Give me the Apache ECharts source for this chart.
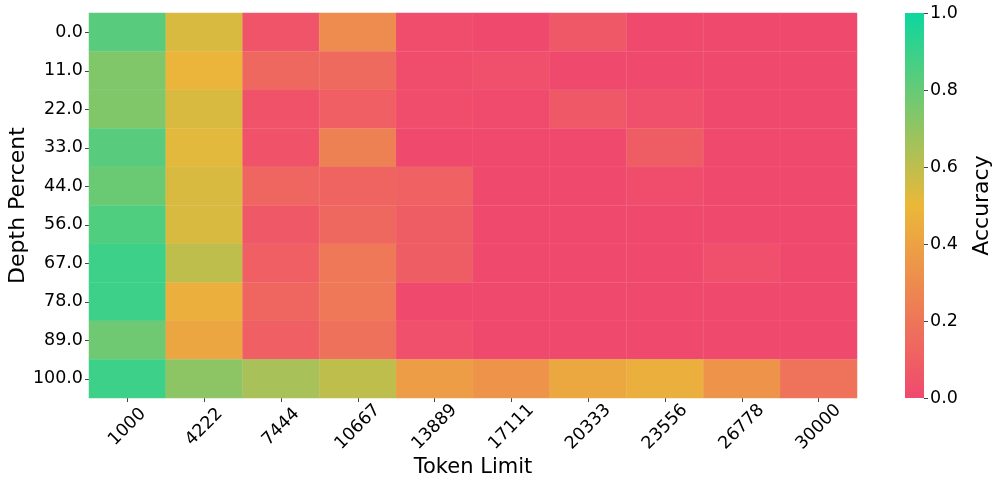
<!DOCTYPE html>
<html>
<head>
<meta charset="utf-8">
<script src="https://cdn.jsdelivr.net/npm/echarts@6/dist/echarts.min.js"></script>
<style>
html,body{margin:0;padding:0;background:#fff;}
#chart{width:997px;height:489px;}
</style>
</head>
<body>
<div id="chart"></div>
<script>
// token limits on x, depth percents on y (top to bottom)
var tokenLimits = ['1000','4222','7444','10667','13889','17111','20333','23556','26778','30000'];
var depthPercents = ['0.0','11.0','22.0','33.0','44.0','56.0','67.0','78.0','89.0','100.0'];
var accTicks = [0, 0.2, 0.4, 0.6, 0.8, 1.0];
var cmapColors = ['#F0496E', '#EBB839', '#0CD79F'];

// one row per depth, one value per token limit
var row0   = [0.83, 0.54, 0.05, 0.30, 0.02, 0.00, 0.07, 0.00, 0.00, 0.00];
var row11  = [0.74, 0.48, 0.14, 0.15, 0.02, 0.03, 0.00, 0.00, 0.00, 0.00];
var row22  = [0.74, 0.54, 0.04, 0.10, 0.02, 0.01, 0.07, 0.03, 0.00, 0.00];
var row33  = [0.83, 0.52, 0.04, 0.25, 0.00, 0.00, 0.00, 0.09, 0.00, 0.00];
var row44  = [0.79, 0.54, 0.13, 0.12, 0.11, 0.00, 0.00, 0.02, 0.00, 0.00];
var row56  = [0.85, 0.54, 0.07, 0.14, 0.09, 0.00, 0.00, 0.00, 0.00, 0.00];
var row67  = [0.89, 0.60, 0.10, 0.21, 0.09, 0.00, 0.00, 0.00, 0.03, 0.00];
var row78  = [0.89, 0.46, 0.13, 0.21, 0.00, 0.00, 0.00, 0.00, 0.00, 0.00];
var row89  = [0.78, 0.42, 0.10, 0.18, 0.03, 0.00, 0.00, 0.00, 0.00, 0.00];
var row100 = [0.89, 0.71, 0.65, 0.60, 0.38, 0.34, 0.43, 0.46, 0.34, 0.19];
var rows = [row0, row11, row22, row33, row44, row56, row67, row78, row89, row100];

var cells = [];
rows.forEach(function(r, yi){
    r.forEach(function(v, xi){ cells.push([xi, yi, v]); });
});

var font = 'DejaVu Sans';
var myChart = echarts.init(document.getElementById('chart'));
myChart.setOption({
    animation:false,
    textStyle:{fontFamily:font},
    grid:[{
        left:89, top:13, width:768, height:385, outerBoundsMode:'none', containLabel:false
    },{
        left:905, top:13, width:19, height:385, outerBoundsMode:'none', containLabel:false
    }],
    xAxis:[{
        gridIndex:0,
        type:'category',
        data:tokenLimits,
        name:'Token Limit',
        nameLocation:'middle',
        nameGap:59,
        nameMoveOverlap:false,
        nameTextStyle:{fontSize:21, color:'#000', fontFamily:font},
        axisLine:{show:false},
        axisTick:{show:true, alignWithLabel:true, length:4, lineStyle:{color:'#444'}},
        axisLabel:{rotate:45, fontSize:17.5, color:'#000', margin:29, align:'center', verticalAlign:'middle', fontFamily:font},
        splitLine:{show:false}
    },{
        // colorbar holder
        gridIndex:1,
        type:'category',
        data:['cbar'],
        show:false
    }],
    yAxis:[{
        gridIndex:0,
        type:'category',
        inverse:true,
        data:depthPercents,
        name:'Depth Percent',
        nameLocation:'middle',
        nameGap:60,
        nameMoveOverlap:false,
        nameRotate:90,
        nameTextStyle:{fontSize:22, color:'#000', fontFamily:font},
        axisLine:{show:false},
        axisTick:{show:true, alignWithLabel:true, length:4, lineStyle:{color:'#444'}},
        axisLabel:{fontSize:17.5, color:'#000', margin:6, fontFamily:font},
        splitLine:{show:false}
    },{
        gridIndex:1,
        type:'value',
        position:'right',
        min:0, max:1, interval:0.2,
        name:'Accuracy',
        nameLocation:'middle',
        nameGap:47,
        nameMoveOverlap:false,
        nameRotate:90,
        nameTextStyle:{fontSize:22, color:'#000', fontFamily:font},
        axisLine:{show:false},
        axisTick:{show:true, length:4, lineStyle:{color:'#444'}},
        axisLabel:{fontSize:17.5, color:'#000', margin:6, fontFamily:font,
            formatter:function(v){ return accTicks.indexOf(+v.toFixed(1)) >= 0 ? v.toFixed(1) : ''; }},
        splitLine:{show:false}
    }],
    visualMap:{
        type:'continuous',
        show:false,
        min:0, max:1,
        seriesIndex:0,
        inRange:{color:cmapColors}
    },
    series:[{
        type:'heatmap',
        xAxisIndex:0,
        yAxisIndex:0,
        data:cells,
        itemStyle:{borderColor:'rgba(255,255,255,0.12)', borderWidth:0.5},
        emphasis:{disabled:true}
    },{
        // colorbar: one full-height bar with the colormap gradient
        type:'bar',
        xAxisIndex:1,
        yAxisIndex:1,
        barWidth:'100%',
        silent:true,
        data:[accTicks[accTicks.length - 1]],
        itemStyle:{
            color:new echarts.graphic.LinearGradient(0, 1, 0, 0, [
                {offset:0, color:cmapColors[0]},
                {offset:0.5, color:cmapColors[1]},
                {offset:1, color:cmapColors[2]}
            ])
        }
    }]
});
</script>
</body>
</html>
